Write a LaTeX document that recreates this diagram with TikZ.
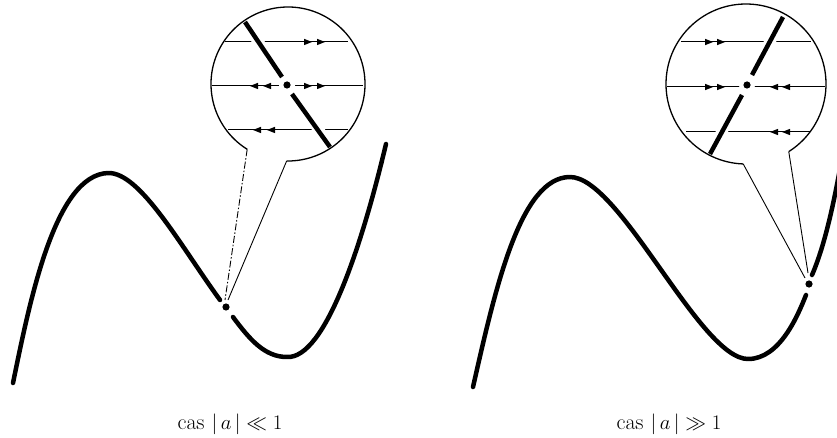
\documentclass[tikz,border=0pt]{standalone}
\usepackage{amssymb}
\usetikzlibrary{calc}
\begin{document}
\begin{tikzpicture}[x=1pt,y=-1pt,
  curve/.style={line width=4.5pt,line cap=round,line join=round},
  rim/.style={line width=1.3pt},
  hline/.style={line width=1pt},
  diag/.style={line width=4.5pt},
  pointer/.style={line width=0.9pt},
  caption/.style={font=\fontsize{22}{26}\selectfont,anchor=base}]
\useasboundingbox (0,0) rectangle (837,438);
\clip (0,0) rectangle (837,438);
\newcommand\tri[3]{\fill (#1,#2) -- ++({#3*(-8)},-3.2) -- ++(0,6.4) -- cycle;}
% ================= LEFT PANEL =================
\draw[curve] (13,383) .. controls (30,300) and (55,175) .. (108,173)
  .. controls (140,172) and (180,245) .. (220,300);
\draw[curve] (233,317) .. controls (250,340) and (265,357) .. (287,357)
  .. controls (325,359) and (362,245) .. (386,144);
\fill (226,307) circle (3.6);
% circle
\coordinate (LC) at (288,84);
\coordinate (LA) at ($(LC)+(122:77)$);
\draw[rim] (LC) ++(122:77) arc[start angle=122,end angle=451,radius=77] coordinate (LB);
\draw[pointer,dash pattern=on 7pt off 2pt on 1.5pt off 2pt] (LA) -- (225,300);
\draw[pointer] (LB) -- (228,300);
% horizontal lines
\draw[hline] (225,42) -- (348,42);
\draw[hline] (212,86) -- (363,86);
\draw[hline] (228,130) -- (348,130);
% diagonal with white halo
\draw[white,line width=11pt] (246,24) -- (329,145);
\fill[white] (287,85) circle (8);
\draw[diag] (245,22) -- (282,77);
\draw[diag] (292,94) -- (330,147);
\fill (287,85) circle (3.6);
% arrows
\tri{312}{42}{1}\tri{325}{42}{1}
\tri{250}{86}{-1}\tri{263}{86}{-1}
\tri{312}{86}{1}\tri{325}{86}{1}
\tri{253}{130}{-1}\tri{267}{130}{-1}
\node[caption] (capL) at (230,429) {cas\hspace{7pt}$|\,a\,|\ll 1$};
% ================= RIGHT PANEL =================
\draw[curve] (473,387) .. controls (495,290) and (520,177) .. (570,177)
  .. controls (620,177) and (700,359) .. (748,359)
  .. controls (780,359) and (798,315) .. (806,295);
\draw[curve] (812,275) .. controls (825,245) and (835,200) .. (845,140);
\fill (809,284) circle (3.6);
\coordinate (RC) at (746,84);
\draw[rim] (RC) ++(92:80) coordinate (RA) arc[start angle=92,end angle=417.7,radius=80] coordinate (RB);
\draw[pointer] (RA) -- (805,278);
\draw[pointer] (RB) -- (808,273);
\draw[hline] (681,42) -- (811,42);
\draw[hline] (667,87) -- (825,87);
\draw[hline] (686,132) -- (810,132);
\draw[white,line width=11pt] (782,19) -- (711,152);
\fill[white] (747,85) circle (8);
\draw[diag] (783,17) -- (752,75);
\draw[diag] (742,95) -- (710,154);
\fill (747,85) circle (3.6);
\tri{713}{42}{1}\tri{725}{42}{1}
\tri{713}{87}{1}\tri{725}{87}{1}
\tri{770}{87}{-1}\tri{782}{87}{-1}
\tri{770}{132}{-1}\tri{782}{132}{-1}
\node[caption] (capR) at (669,429) {cas\hspace{7pt}$|\,a\,|\gg 1$};
\end{tikzpicture}
\end{document}
